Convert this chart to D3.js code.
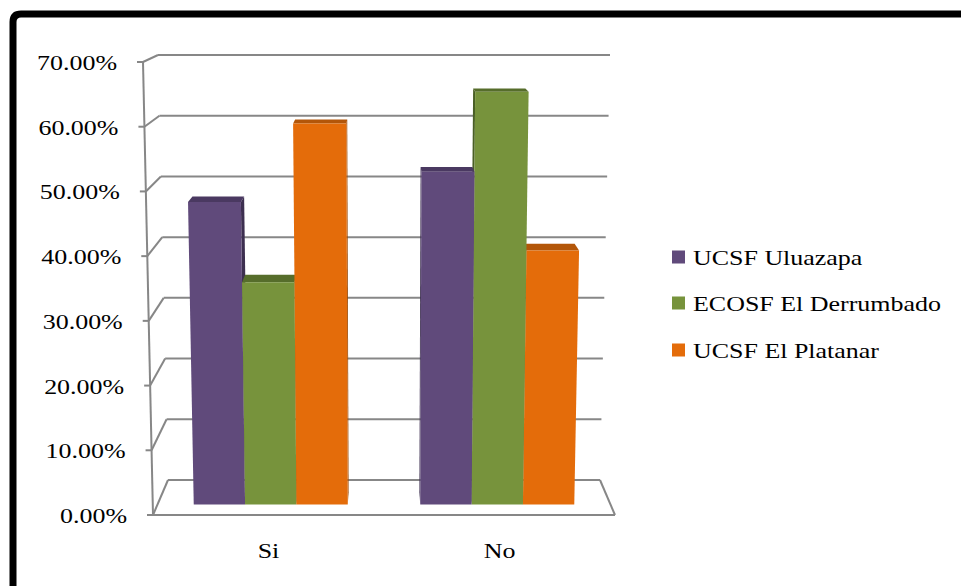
<!DOCTYPE html>
<html>
<head>
<meta charset="utf-8">
<script src="https://cdn.jsdelivr.net/npm/d3@7"></script>
<style>
  html, body { margin: 0; padding: 0; background: #ffffff; }
  svg { display: block; }
</style>
</head>
<body>
<svg id="chart" width="961" height="586"></svg>
<script>
// Survey answers per health unit (percent of respondents)
const categories = ["Si", "No"];
const seriesNames = ["UCSF Uluazapa", "ECOSF El Derrumbado", "UCSF El Platanar"];
const uluazapa = [47.62, 52.38];
const derrumbado = [35.0, 65.0];
const platanar = [60.0, 40.0];
const yTickValues = [0, 10, 20, 30, 40, 50, 60, 70];
const yTickLabels = ["0.00%", "10.00%", "20.00%", "30.00%", "40.00%", "50.00%", "60.00%", "70.00%"];

const seriesValues = [uluazapa, derrumbado, platanar];
const frontColors = ["#604a7b", "#77933c", "#e46c0a"];
const topColors = ["#4a3961", "#566d2b", "#b35609"];
const sideColors = ["#3d2f50", "#4a5f25", "#9a4a07"];

const svg = d3.select("#chart");
const FONT = "'Liberation Serif', 'Times New Roman', serif";
const STRETCH = 1.18;
const GRID = "#878787";

// Perspective box: front and back planes of the plot volume
const yFront = d3.scaleLinear().domain([0, 70]).range([515, 62]);
const yBack = d3.scaleLinear().domain([0, 70]).range([480, 55]);
const xFrontLeft = d3.scaleLinear().domain([0, 70]).range([153, 143]);
const xFrontRight = d3.scaleLinear().domain([0, 70]).range([615, 625]);
const xBackLeft = d3.scaleLinear().domain([0, 70]).range([168, 158]);
const xBackRight = d3.scaleLinear().domain([0, 70]).range([600, 610]);

// u: horizontal fraction (0..1), v: value, z: depth (0 front .. 1 back)
function project(u, v, z) {
  const y = yFront(v) * (1 - z) + yBack(v) * z;
  const xl = xFrontLeft(v) * (1 - z) + xBackLeft(v) * z;
  const xr = xFrontRight(v) * (1 - z) + xBackRight(v) * z;
  return [xl + u * (xr - xl), y];
}

const xBand = d3.scaleBand().domain(categories).range([0, 1])
  .paddingInner(0.32).paddingOuter(0.16);
const xInner = d3.scaleBand().domain(seriesNames).range([0, xBand.bandwidth()]);

// Outer frame
svg.append("path")
  .attr("d", "M13,600 L13,22 Q13,14 21,14 L975,14")
  .attr("fill", "none").attr("stroke", "#000").attr("stroke-width", 7);

const grid = svg.append("g").attr("fill", "none").attr("stroke", GRID).attr("stroke-width", 2);

// Back wall gridlines and left wall diagonals
yTickValues.forEach(v => {
  const bl = project(0, v, 1), br = project(1, v, 1), fl = project(0, v, 0);
  grid.append("line").attr("x1", bl[0]).attr("y1", bl[1]).attr("x2", br[0]).attr("y2", br[1]);
  grid.append("line").attr("x1", fl[0]).attr("y1", fl[1]).attr("x2", bl[0]).attr("y2", bl[1]);
  grid.append("line").attr("x1", fl[0] - 6).attr("y1", fl[1]).attr("x2", fl[0]).attr("y2", fl[1]);
});

// Front value axis and floor edges
{
  const a = project(0, 0, 0), b = project(0, 70, 0);
  grid.append("line").attr("x1", a[0]).attr("y1", a[1]).attr("x2", b[0]).attr("y2", b[1]);
  const fr = project(1, 0, 0), br = project(1, 0, 1);
  grid.append("line").attr("x1", a[0]).attr("y1", a[1]).attr("x2", fr[0]).attr("y2", fr[1]);
  grid.append("line").attr("x1", fr[0]).attr("y1", fr[1]).attr("x2", br[0]).attr("y2", br[1]);
}

// Value axis labels
yTickValues.forEach((v, i) => {
  const p = project(0, v, 0);
  svg.append("text")
    .attr("transform", `translate(${p[0] - 26},${p[1] + 8}) scale(${STRETCH},1)`)
    .attr("text-anchor", "end")
    .attr("font-family", FONT).attr("font-size", 22).attr("fill", "#000")
    .text(yTickLabels[i]);
});

// Category labels
categories.forEach(c => {
  const p = project(xBand(c) + xBand.bandwidth() / 2, 0, 0);
  svg.append("text")
    .attr("transform", `translate(${p[0]},558) scale(${STRETCH},1)`)
    .attr("text-anchor", "middle")
    .attr("font-family", FONT).attr("font-size", 22).attr("fill", "#000")
    .text(c);
});

// 3D columns
const Z0 = 0.3, Z1 = 0.65;
const poly = pts => "M" + pts.map(p => p.join(",")).join("L") + "Z";
const barsLayer = svg.append("g");

categories.forEach((c, ci) => {
  const order = xBand(c) + xBand.bandwidth() / 2 < 0.5 ? [0, 1, 2] : [2, 1, 0];
  order.forEach(si => {
    const v = seriesValues[si][ci];
    const u0 = xBand(c) + xInner(seriesNames[si]);
    const u1 = u0 + xInner.bandwidth();
    const leftHalf = (u0 + u1) / 2 < 0.5;
    const us = leftHalf ? u1 : u0;
    const g = barsLayer.append("g");
    g.append("path").attr("fill", sideColors[si])
      .attr("d", poly([project(us, 0, Z0), project(us, 0, Z1), project(us, v, Z1), project(us, v, Z0)]));
    g.append("path").attr("fill", topColors[si])
      .attr("d", poly([project(u0, v, Z0), project(u1, v, Z0), project(u1, v, Z1), project(u0, v, Z1)]));
    g.append("path").attr("fill", frontColors[si])
      .attr("d", poly([project(u0, 0, Z0), project(u1, 0, Z0), project(u1, v, Z0), project(u0, v, Z0)]));
  });
});

// Legend
const legendY = [257, 303, 350];
seriesNames.forEach((name, i) => {
  svg.append("rect").attr("x", 672).attr("y", legendY[i] - 6.5)
    .attr("width", 13).attr("height", 13).attr("fill", frontColors[i]);
  svg.append("text")
    .attr("transform", `translate(693,${legendY[i] + 8}) scale(${STRETCH},1)`)
    .attr("font-family", FONT).attr("font-size", 22).attr("fill", "#000")
    .text(name);
});
</script>
</body>
</html>
